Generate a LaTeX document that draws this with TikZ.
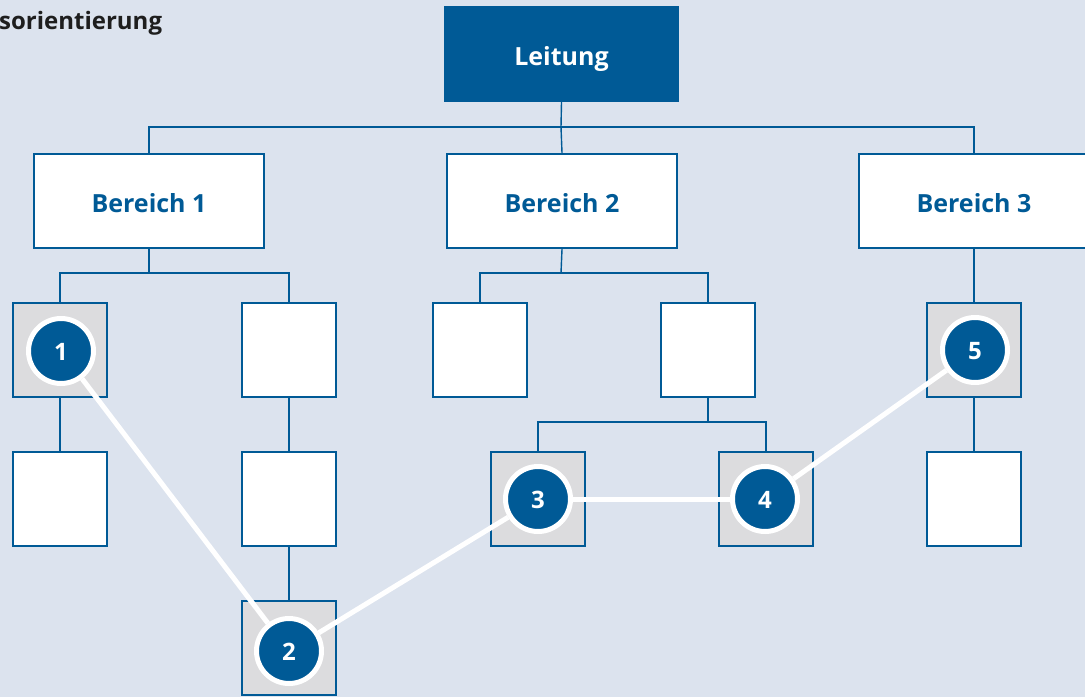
\documentclass[tikz,border=0pt]{standalone}
\usepackage{fontspec}
\setmainfont{Open Sans}
\usetikzlibrary{calc}
\definecolor{bgblue}{RGB}{220,227,238}
\definecolor{dblue}{RGB}{0,90,150}
\definecolor{boxgray}{RGB}{220,220,222}
\definecolor{txtdark}{RGB}{30,30,30}
\tikzset{
  conn/.style={draw=dblue, line width=1.4pt},
  topbox/.style={rectangle, fill=dblue, minimum width=235pt, minimum height=96pt,
    inner sep=0pt, text height=22pt, text depth=0pt, text=white,
    font=\fontsize{25}{28}\selectfont\bfseries},
  areabox/.style={rectangle, draw=dblue, line width=2.4pt, fill=white,
    minimum width=230pt, minimum height=94pt, inner sep=0pt,
    text height=23pt, text depth=0pt, text=dblue,
    font=\fontsize{25}{28}\selectfont\bfseries},
  unitbox/.style={rectangle, draw=dblue, line width=2.4pt, fill=white,
    minimum width=94pt, minimum height=94pt, inner sep=0pt},
  markedbox/.style={unitbox, fill=boxgray},
  stepmark/.style={circle, fill=dblue, draw=white, line width=5pt,
    minimum size=65pt, inner sep=0pt, text height=19pt, text depth=0pt,
    text=white, font=\fontsize{24}{28}\selectfont\bfseries},
  pathline/.style={draw=white, line width=5pt},
}
\begin{document}
\begin{tikzpicture}[x=1pt, y=-1pt]
  \fill[bgblue] (0,0) rectangle (1085,697);
  \useasboundingbox (0,0) rectangle (1085,697);

  % heading
  \node[anchor=base west, inner sep=0pt, text=txtdark,
        font=\fontsize{24}{26}\selectfont\bfseries] (title) at (-1,29.5) {sorientierung};

  % management and areas
  \node[topbox] (L) at (561.5,54) {Leitung};
  \node[areabox] (B1) at (149,201) {Bereich 1};
  \node[areabox] (B2) at (562,201) {Bereich 2};
  \node[areabox] (B3) at (974,201) {Bereich 3};

  % first level units
  \node[markedbox] (a1) at (60,350) {};
  \node[unitbox]   (a2) at (289,350) {};
  \node[unitbox]   (a3) at (480,350) {};
  \node[unitbox]   (a4) at (708,350) {};
  \node[markedbox] (a5) at (974,350) {};

  % second level units
  \node[unitbox]   (b1) at (60,499) {};
  \node[unitbox]   (b2) at (289,499) {};
  \node[markedbox] (b3) at (538,499) {};
  \node[markedbox] (b4) at (766,499) {};
  \node[unitbox]   (b5) at (974,499) {};

  % third level unit
  \node[markedbox] (c2) at (289,648) {};

  % junction points
  \coordinate (jL) at (561,127);
  \coordinate (j1) at (149,273);
  \coordinate (j2) at (561,273);
  \coordinate (j4) at (708,422);

  % tree connectors
  \draw[conn] (L.south) -- (jL);
  \draw[conn] (B1.north) |- (jL) -| (B3.north);
  \draw[conn] (jL) -- (B2.north);
  \draw[conn] (B1.south) -- (j1);
  \draw[conn] (a1.north) |- (j1) -| (a2.north);
  \draw[conn] (B2.south) -- (j2);
  \draw[conn] (a3.north) |- (j2) -| (a4.north);
  \draw[conn] (B3.south) -- (a5.north);
  \draw[conn] (a1.south) -- (b1.north);
  \draw[conn] (a2.south) -- (b2.north);
  \draw[conn] (a5.south) -- (b5.north);
  \draw[conn] (b2.south) -- (c2.north);
  \draw[conn] (a4.south) -- (j4);
  \draw[conn] (b3.north) |- (j4) -| (b4.north);

  % process steps
  \node[stepmark] (n1) at (61,351) {1};
  \node[stepmark] (n2) at (289,651) {2};
  \node[stepmark] (n3) at (538,499) {3};
  \node[stepmark] (n4) at (765,499) {4};
  \node[stepmark] (n5) at (975,350) {5};

  % process path
  \draw[pathline] (n1) -- (n2);
  \draw[pathline] (n2) -- (n3);
  \draw[pathline] (n3) -- (n4);
  \draw[pathline] (n4) -- (n5);
\end{tikzpicture}
\end{document}
